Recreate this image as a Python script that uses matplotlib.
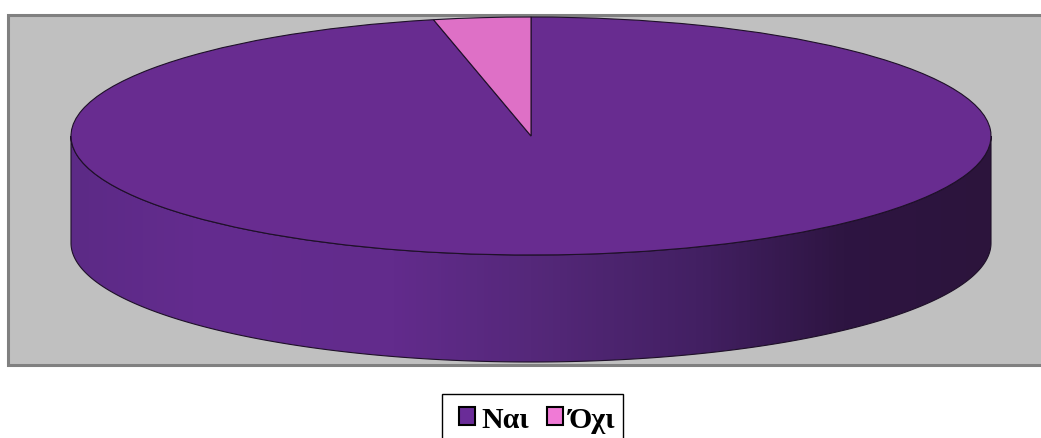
"""3D-looking pie: Nai / Oxi on a grey plot area, drawn in pixel coordinates."""
import numpy as np
import matplotlib
matplotlib.use("Agg")
import matplotlib.pyplot as plt
from matplotlib.colors import LinearSegmentedColormap
from matplotlib.patches import PathPatch, Rectangle
from matplotlib.path import Path

labels = ["Ναι", "Όχι"]
values = [96.6, 3.4]
colors = ["#682c90", "#de70c6"]
swatches = ["#6a2c98", "#f07ad6"]

W, H = 1041, 439
CX, CY, RX, RY = 531, 137, 460, 119   # top ellipse
DEPTH = 107
INK = "#1e1028"

plt.rcParams["font.family"] = ["Liberation Serif", "DejaVu Serif"]
fig = plt.figure(figsize=(W / 100, H / 100), dpi=100, facecolor="white")

# ---- background axes, in image pixels ----
bg = fig.add_axes([0, 0, 1, 1])
bg.axis("off")

# plot area runs off the right edge
bg.add_patch(Rectangle((8, 15.5), W, 350, fc="#c0c0c0", ec="#808080", lw=2.2))

# side wall of the disc
th = np.linspace(np.pi, 0, 300)
ex, ey = CX + RX * np.cos(th), CY + RY * np.sin(th)
verts = np.r_[np.c_[ex, ey + DEPTH], np.c_[ex[::-1], ey[::-1]]]
side = Path(np.r_[verts, verts[:1]], closed=True)

shade = LinearSegmentedColormap.from_list("shade", [
    (0.00, "#5c2a86"), (0.15, "#642c8f"), (0.35, "#622b8c"), (0.50, "#55287a"),
    (0.68, "#432063"), (0.84, "#2e1542"), (1.00, "#2c143c")])
im = bg.imshow(np.linspace(0, 1, 256)[None, :], cmap=shade, aspect="auto", zorder=2,
               extent=(CX - RX, CX + RX, CY + RY + DEPTH, CY))
outline = PathPatch(side, fc="none", ec=INK, lw=0.8, zorder=3)
bg.add_patch(outline)
im.set_clip_path(outline)

# legend frame is cut by the bottom of the image
bg.add_patch(Rectangle((441.5, 395.5), 181, 60, fc="white", ec="black", lw=1.0, zorder=2))
bg.set_xlim(0, W)
bg.set_ylim(H, 0)

# ---- pie, squashed into the top ellipse ----
ax = fig.add_axes([(CX - RX) / W, 1 - (CY + RY) / H, 2 * RX / W, 2 * RY / H])
wedges, _ = ax.pie(values, colors=colors, startangle=90, counterclock=False,
                   wedgeprops=dict(edgecolor=INK, linewidth=0.8, clip_on=False))
ax.set_aspect("auto")
ax.set_xlim(-1, 1)
ax.set_ylim(-1, 1)

leg = fig.legend(wedges, labels, loc="upper left",
                 bbox_to_anchor=(459 / W, 1 - 407 / H), ncols=2,
                 prop=dict(size=21.5, weight="bold"), frameon=False, borderpad=0,
                 borderaxespad=0, handlelength=0.55, handleheight=0.55,
                 handletextpad=0.2, columnspacing=0.6)
for h, c in zip(leg.legend_handles, swatches):
    h.set_facecolor(c)
    h.set_edgecolor("black")
    h.set_linewidth(1.5)

fig.savefig("out.png", dpi=100)
